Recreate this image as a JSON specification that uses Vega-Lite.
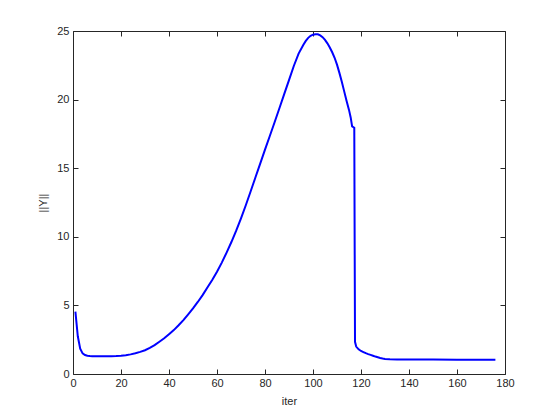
{
  "$schema": "https://vega.github.io/schema/vega-lite/v6.json",
  "width": 432,
  "height": 343,
  "autosize": {"type": "none"},
  "padding": {"left": 73, "top": 31, "right": 55, "bottom": 46},
  "background": "white",
  "config": {
    "view": {"stroke": "#262626", "strokeWidth": 1},
    "font": "Liberation Sans",
    "axis": {
      "grid": false,
      "domain": false,
      "labelFlush": false,
      "tickColor": "#262626",
      "tickSize": -5,
      "tickWidth": 1,
      "labelColor": "#262626",
      "labelFont": "Liberation Sans",
      "labelFontSize": 11,
      "titleColor": "#262626",
      "titleFont": "Liberation Sans",
      "titleFontSize": 11,
      "titleFontWeight": "normal"
    }
  },
  "data": {
    "values": [
      {"iter": 1, "v": 4.55}, {"iter": 2, "v": 2.75}, {"iter": 3, "v": 1.85}, {"iter": 4, "v": 1.5},
      {"iter": 5, "v": 1.38}, {"iter": 6, "v": 1.33}, {"iter": 7, "v": 1.31}, {"iter": 8, "v": 1.3},
      {"iter": 10, "v": 1.29}, {"iter": 12, "v": 1.29}, {"iter": 14, "v": 1.29}, {"iter": 16, "v": 1.3},
      {"iter": 18, "v": 1.31}, {"iter": 20, "v": 1.33}, {"iter": 22, "v": 1.37}, {"iter": 24, "v": 1.43},
      {"iter": 26, "v": 1.51}, {"iter": 28, "v": 1.61}, {"iter": 30, "v": 1.73}, {"iter": 32, "v": 1.9},
      {"iter": 34, "v": 2.1}, {"iter": 36, "v": 2.35}, {"iter": 38, "v": 2.6}, {"iter": 40, "v": 2.9},
      {"iter": 42, "v": 3.2}, {"iter": 44, "v": 3.55}, {"iter": 46, "v": 3.93}, {"iter": 48, "v": 4.35},
      {"iter": 50, "v": 4.78}, {"iter": 52, "v": 5.25}, {"iter": 54, "v": 5.75}, {"iter": 56, "v": 6.3},
      {"iter": 58, "v": 6.85}, {"iter": 60, "v": 7.45}, {"iter": 62, "v": 8.12}, {"iter": 64, "v": 8.85},
      {"iter": 66, "v": 9.62}, {"iter": 68, "v": 10.45}, {"iter": 70, "v": 11.35}, {"iter": 72, "v": 12.3},
      {"iter": 74, "v": 13.3}, {"iter": 76, "v": 14.32}, {"iter": 78, "v": 15.33}, {"iter": 80, "v": 16.35},
      {"iter": 82, "v": 17.35}, {"iter": 84, "v": 18.35}, {"iter": 86, "v": 19.37}, {"iter": 88, "v": 20.4},
      {"iter": 90, "v": 21.42}, {"iter": 92, "v": 22.45}, {"iter": 94, "v": 23.35}, {"iter": 96, "v": 24.0},
      {"iter": 97, "v": 24.28}, {"iter": 98, "v": 24.5}, {"iter": 99, "v": 24.65}, {"iter": 100, "v": 24.73},
      {"iter": 101, "v": 24.77}, {"iter": 102, "v": 24.76}, {"iter": 103, "v": 24.68}, {"iter": 104, "v": 24.55},
      {"iter": 105, "v": 24.35}, {"iter": 106, "v": 24.1}, {"iter": 107, "v": 23.8}, {"iter": 108, "v": 23.45},
      {"iter": 109, "v": 23.05}, {"iter": 110, "v": 22.55}, {"iter": 111, "v": 21.95}, {"iter": 112, "v": 21.3},
      {"iter": 113, "v": 20.6}, {"iter": 114, "v": 19.9}, {"iter": 115, "v": 19.25}, {"iter": 115.7, "v": 18.7},
      {"iter": 116.3, "v": 18.05}, {"iter": 117.2, "v": 17.95}, {"iter": 117.5, "v": 2.35}, {"iter": 118, "v": 2.0},
      {"iter": 119, "v": 1.8}, {"iter": 120, "v": 1.68}, {"iter": 121, "v": 1.6},
      {"iter": 122, "v": 1.52}, {"iter": 123, "v": 1.45}, {"iter": 124, "v": 1.39}, {"iter": 125, "v": 1.33},
      {"iter": 126, "v": 1.27}, {"iter": 127, "v": 1.22}, {"iter": 128, "v": 1.17}, {"iter": 129, "v": 1.13},
      {"iter": 130, "v": 1.1}, {"iter": 132, "v": 1.07}, {"iter": 135, "v": 1.06}, {"iter": 140, "v": 1.05},
      {"iter": 150, "v": 1.05}, {"iter": 160, "v": 1.04}, {"iter": 170, "v": 1.04}, {"iter": 176, "v": 1.04}
    ]
  },
  "resolve": {"axis": {"x": "independent", "y": "independent"}},
  "layer": [
    {
      "mark": {"type": "line", "color": "#0000ff", "strokeWidth": 2},
      "encoding": {
        "x": {"field": "iter", "type": "quantitative", "scale": {"domain": [0, 180], "nice": false},
              "axis": {"orient": "bottom", "values": [0,20,40,60,80,100,120,140,160,180], "title": "iter", "labelPadding": 8, "titlePadding": 7}},
        "y": {"field": "v", "type": "quantitative", "scale": {"domain": [0, 25], "nice": false, "zero": false},
              "axis": {"orient": "left", "values": [0,5,10,15,20,25], "title": "||Υ||", "labelPadding": 9, "titlePadding": 8}}
      }
    },
    {
      "mark": {"type": "line", "opacity": 0},
      "encoding": {
        "x": {"field": "iter", "type": "quantitative", "scale": {"domain": [0, 180], "nice": false},
              "axis": {"orient": "top", "values": [0,20,40,60,80,100,120,140,160,180], "labels": false, "title": null}},
        "y": {"field": "v", "type": "quantitative", "scale": {"domain": [0, 25], "nice": false, "zero": false},
              "axis": {"orient": "right", "values": [0,5,10,15,20,25], "labels": false, "title": null}}
      }
    }
  ]
}
